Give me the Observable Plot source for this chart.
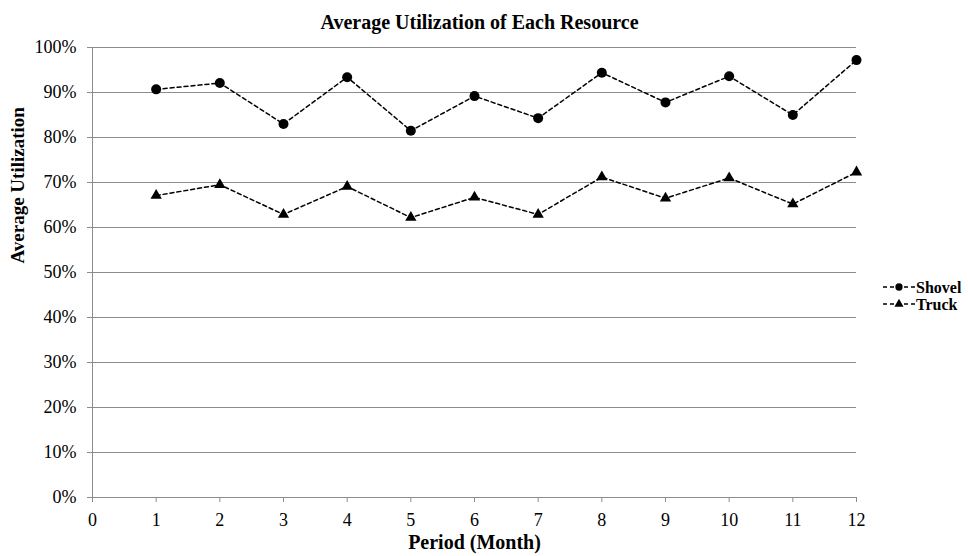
<!DOCTYPE html>
<html>
<head>
<meta charset="utf-8">
<script src="https://cdn.jsdelivr.net/npm/d3@7"></script>
<script src="https://cdn.jsdelivr.net/npm/@observablehq/plot@0.6"></script>
<style>
  html, body { margin: 0; padding: 0; background: #fff; }
  svg { display: block; }
  svg, svg text { font-family: "Liberation Serif", "Times New Roman", serif !important; }
</style>
</head>
<body>
<div id="chart"></div>
<script>
const titleText = "Average Utilization of Each Resource";
const xLabel = "Period (Month)";
const yLabel = "Average Utilization";
const periods = [1, 2, 3, 4, 5, 6, 7, 8, 9, 10, 11, 12];
const shovel = [0.907, 0.921, 0.830, 0.934, 0.815, 0.892, 0.843, 0.944, 0.878, 0.936, 0.850, 0.972];
const truck = [0.671, 0.695, 0.629, 0.691, 0.622, 0.667, 0.629, 0.712, 0.665, 0.710, 0.652, 0.723];
const seriesNames = ["Shovel", "Truck"];
const seriesSymbols = ["circle", "triangle"];
const xTicks = [0, 1, 2, 3, 4, 5, 6, 7, 8, 9, 10, 11, 12];
const yTicks = [0, 0.1, 0.2, 0.3, 0.4, 0.5, 0.6, 0.7, 0.8, 0.9, 1.0];

const data = [];
[shovel, truck].forEach((vals, si) => {
  vals.forEach((v, i) => data.push({series: seriesNames[si], symbol: seriesSymbols[si], period: periods[i], value: v}));
});

const grid = "#8c8c8c";

const plot = Plot.plot({
  width: 968,
  height: 556,
  marginTop: 47,
  marginBottom: 59,
  marginLeft: 92,
  marginRight: 112,
  style: {background: "#fff", color: "#000"},
  x: {domain: [0, 12], ticks: xTicks},
  y: {domain: [0, 1], ticks: yTicks},
  symbol: {type: "identity"},
  marks: [
    Plot.ruleY(yTicks, {stroke: grid, strokeWidth: 1}),
    Plot.ruleX([0], {stroke: grid, strokeWidth: 1}),
    Plot.axisY({ticks: yTicks, tickFormat: d3.format(".0%"), tickSize: 5, tickPadding: 11, stroke: grid, fontSize: 18, label: null}),
    Plot.axisX({ticks: xTicks, tickFormat: d => String(d), tickSize: 5, tickPadding: 11, stroke: grid, fontSize: 18, label: null}),
    Plot.line(data, {x: "period", y: "value", z: "series", stroke: "#000", strokeWidth: 1.5, strokeDasharray: "4,3"}),
    Plot.dot(data.filter(d => d.symbol === "circle"), {x: "period", y: "value", symbol: "symbol", fill: "#000", stroke: "none", r: 5}),
    Plot.dot(data.filter(d => d.symbol === "triangle"), {x: "period", y: "value", symbol: "symbol", fill: "#000", stroke: "none", r: 4.2}),
    Plot.text([titleText], {frameAnchor: "top", dy: -25, dx: 5, fontSize: 20, fontWeight: "bold", lineAnchor: "middle"}),
    Plot.text([xLabel], {frameAnchor: "bottom", dy: 45, fontSize: 20, fontWeight: "bold", lineAnchor: "middle"}),
    Plot.text([yLabel], {frameAnchor: "left", dx: -75, dy: -9, rotate: -90, fontSize: 19, fontWeight: "bold", lineAnchor: "middle"})
  ]
});

// legend
const svg = d3.select(plot);
const leg = svg.append("g").attr("text-anchor", "start");
seriesNames.forEach((name, i) => {
  const y = 287 + i * 17;
  const g = leg.append("g").attr("transform", `translate(0,${y})`);
  g.append("line").attr("x1", 883).attr("x2", 915).attr("y1", 0).attr("y2", 0)
    .attr("stroke", "#000").attr("stroke-width", 1.5).attr("stroke-dasharray", "4,3");
  g.append("path").attr("transform", "translate(899,0)")
    .attr("d", d3.symbol(seriesSymbols[i] === "circle" ? d3.symbolCircle : d3.symbolTriangle, seriesSymbols[i] === "circle" ? 42 : 36)())
    .attr("fill", "#000");
  g.append("text").attr("x", 916).attr("y", 0).attr("dy", "0.35em").attr("text-anchor", "start")
    .attr("font-size", 16).attr("font-weight", "bold").attr("fill", "#000").text(name);
});

document.getElementById("chart").appendChild(plot);
</script>
</body>
</html>
